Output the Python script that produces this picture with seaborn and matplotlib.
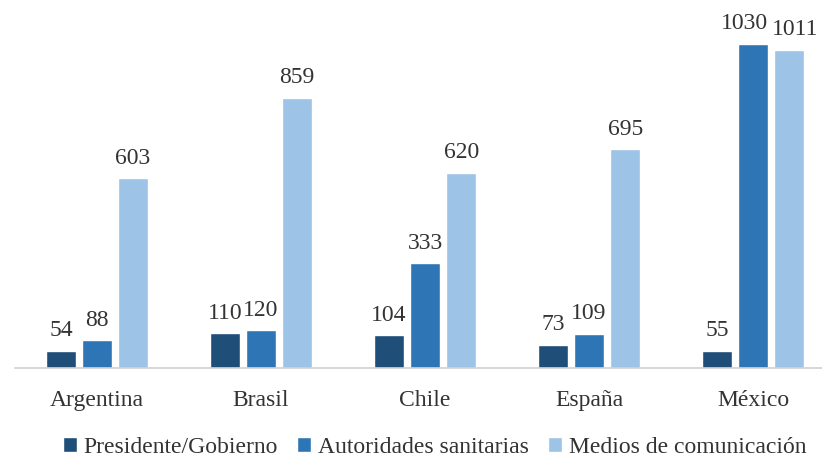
import pandas as pd
import seaborn as sns
import matplotlib.pyplot as plt

# values
paises = ['Argentina', 'Brasil', 'Chile', 'España', 'México']
series = ['Presidente/Gobierno', 'Autoridades sanitarias', 'Medios de comunicación']
presidente = [54, 110, 104, 73, 55]
autoridades = [88, 120, 333, 109, 1030]
medios = [603, 859, 620, 695, 1011]
colores = ['#1F4E79', '#2E75B6', '#9DC3E6']

df = pd.DataFrame({
    'pais': paises * 3,
    'fuente': [series[0]] * 5 + [series[1]] * 5 + [series[2]] * 5,
    'valor': presidente + autoridades + medios,
})

sns.set_style('white')
plt.rcParams['font.family'] = ['Liberation Serif', 'DejaVu Serif']
fs = 17

fig = plt.figure(figsize=(8.22, 4.59), dpi=100)
ax = fig.add_axes([15 / 822, 1 - 368 / 459, 807 / 822, 368 / 459])

sns.barplot(data=df, x='pais', y='valor', hue='fuente', palette=colores,
            saturation=1, width=0.66, gap=0.17, ax=ax, legend=True)

labels = []
for cont in ax.containers:
    labels.append(ax.bar_label(cont, fmt='%d', padding=7, fontsize=fs, color='#333333'))

# the two tall Mexico labels sit close together, push them apart a bit
labels[1][4].xyann = (-6, 7)
labels[2][4].xyann = (4, 7)

ax.set_ylim(0, 1170)
ax.set_xlim(-0.5, 4.42)
ax.set_xlabel('')
ax.set_ylabel('')
ax.set_yticks([])
for s in ['top', 'right', 'left']:
    ax.spines[s].set_visible(False)
ax.spines['bottom'].set_color('#d0d0d0')
ax.spines['bottom'].set_linewidth(1.2)
ax.tick_params(axis='x', length=0, pad=16, labelsize=fs, labelcolor='#333333')

ax.legend(loc='center', bbox_to_anchor=(0.52, -0.215), ncol=3, frameon=False,
          fontsize=fs, handlelength=0.6, handleheight=0.6, handletextpad=0.3,
          columnspacing=0.8, labelcolor='#333333')

fig.savefig('out.png', dpi=100)
